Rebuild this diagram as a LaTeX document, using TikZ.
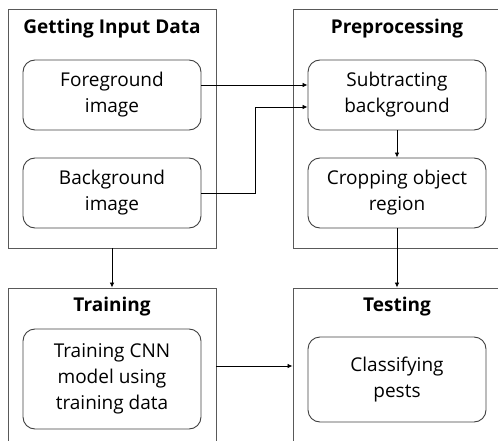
\documentclass[tikz,border=0pt]{standalone}
\usepackage{fontspec}
\setmainfont{Open Sans}
\usetikzlibrary{arrows.meta}
\begin{document}
\begin{tikzpicture}[x=1pt,y=-1pt,
  outer/.style={draw=black!65,line width=0.9pt,minimum width=208pt,inner sep=0pt},
  inner/.style={draw=black!75,line width=0.9pt,rounded corners=12pt,minimum width=178pt,inner sep=0pt,align=center,font=\fontsize{19}{26}\selectfont},
  ttl/.style={font=\fontsize{19}{24}\selectfont\bfseries,inner sep=0pt},
  arr/.style={draw=black,line width=0.8pt,-{Latex[length=5pt,width=4.5pt]}}]
\useasboundingbox (0,0) rectangle (498,441);
\clip (0,0) rectangle (498,441);
% outer boxes
\node[outer,minimum height=239pt] (gid) at (112,128.5) {};
\node[outer,minimum height=239pt] (pre) at (397,128.5) {};
\node[outer,minimum height=180pt] (trn) at (112,378) {};
\node[outer,minimum height=180pt] (tst) at (397,378) {};
% titles
\node[ttl] (tgid) at (112,29) {Getting Input Data};
\node[ttl] (tpre) at (397,29) {Preprocessing};
\node[ttl] (ttrn) at (112,307) {Training};
\node[ttl] (ttst) at (397,307) {Testing};
% inner boxes
\node[inner,minimum height=70pt] (fg) at (112,95) {Foreground\\image};
\node[inner,minimum height=70pt] (bg) at (112,193) {Background\\image};
\node[inner,minimum height=70pt] (sub) at (397,95) {Subtracting\\background};
\node[inner,minimum height=70pt] (crop) at (397,193) {Cropping object\\region};
\node[inner,minimum height=100pt] (cnn) at (112,379) {Training CNN\\model using\\training data};
\node[inner,minimum height=85pt] (cls) at (397,379.5) {Classifying\\pests};
% connectors
\draw[arr] ([yshift=10pt]fg.east) -- ([yshift=10pt]sub.west);
\draw[arr] (bg.east) -- ++(54,0) |- ([yshift=-12pt]sub.west);
\draw[arr] (sub.south) -- (crop.north);
\draw[arr] (crop.south) -- (tst.north);
\draw[arr] (gid.south) -- (trn.north);
\draw[arr] ([yshift=12pt]trn.east) -- ([yshift=12pt]tst.west);
\end{tikzpicture}
\end{document}
